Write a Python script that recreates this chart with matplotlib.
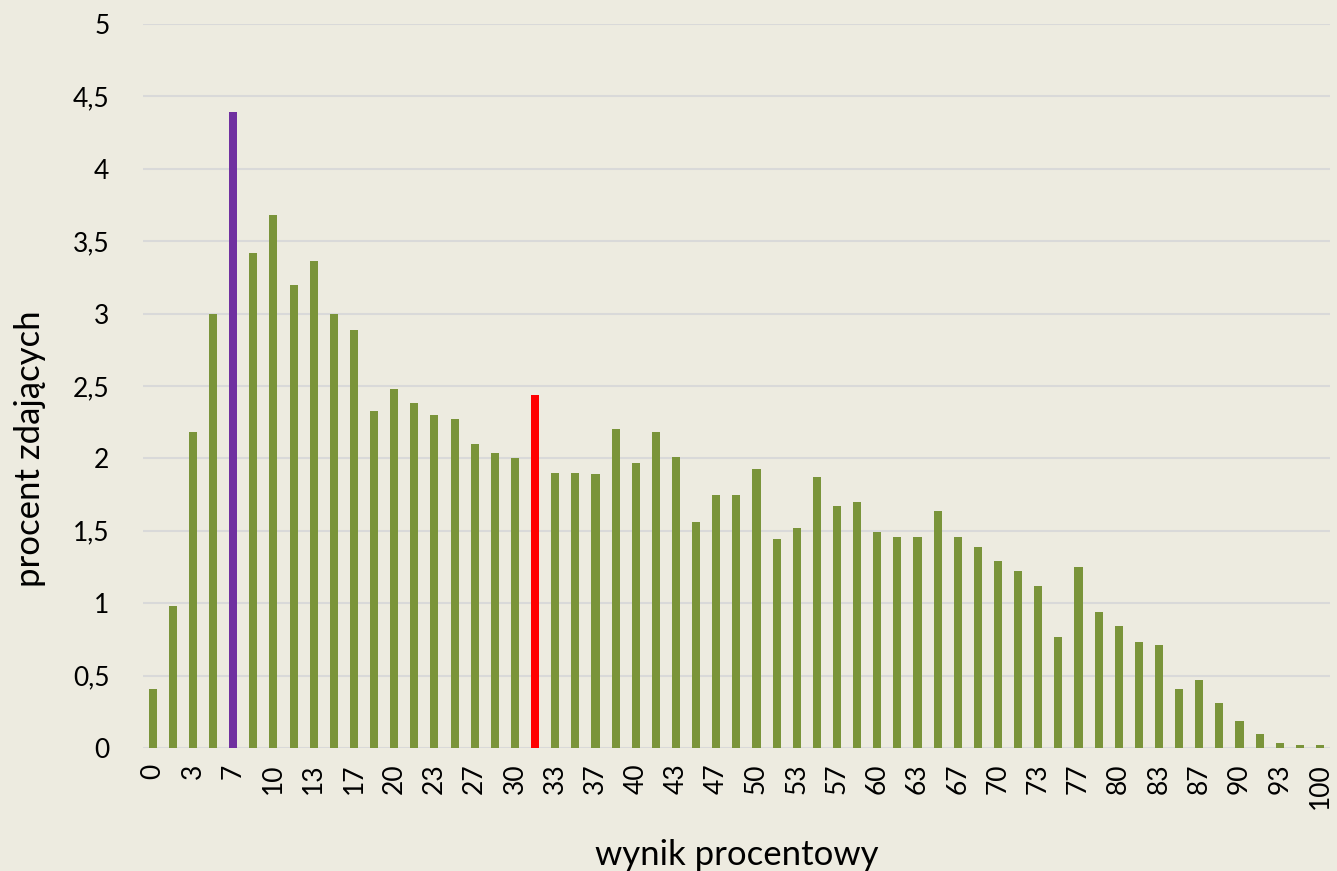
import matplotlib.pyplot as plt
from matplotlib.ticker import FuncFormatter

# Wyniki procentowe (kategorie) i procent zdajacych
wynik = ['0', '2', '3', '5', '7', '8', '10', '12', '13', '15',
         '17', '18', '20', '22', '23', '25', '27', '28', '30', '32',
         '33', '35', '37', '38', '40', '42', '43', '45', '47', '48',
         '50', '52', '53', '55', '57', '58', '60', '62', '63', '65',
         '67', '68', '70', '72', '73', '75', '77', '78', '80', '82',
         '83', '85', '87', '88', '90', '92', '93', '97', '100']
procent = [0.41, 0.98, 2.18, 3.00, 4.39, 3.42, 3.68, 3.20, 3.36, 3.00,
           2.89, 2.33, 2.48, 2.38, 2.30, 2.27, 2.10, 2.04, 2.00, 2.44,
           1.90, 1.90, 1.89, 2.20, 1.97, 2.18, 2.01, 1.56, 1.75, 1.75,
           1.93, 1.44, 1.52, 1.87, 1.67, 1.70, 1.49, 1.46, 1.46, 1.64,
           1.46, 1.39, 1.29, 1.22, 1.12, 0.77, 1.25, 0.94, 0.84, 0.73,
           0.71, 0.41, 0.47, 0.31, 0.19, 0.10, 0.035, 0.02, 0.02]

idx_fiolet = 4   # 7%
idx_czerw = 19   # 32%

bg = '#EDEBE0'
kolory = ['#7A943A'] * len(procent)
kolory[idx_fiolet] = '#7030A0'
kolory[idx_czerw] = '#FF0000'

plt.rcParams['font.family'] = ['Lato', 'DejaVu Sans']

fig = plt.figure(figsize=(13.37, 8.71), dpi=100, facecolor=bg)
ax = fig.add_axes([0.1067, 0.1412, 0.8881, 0.8313])
ax.set_facecolor(bg)

x = range(len(procent))
ax.bar(x, procent, width=0.4, color=kolory, zorder=3)

ax.set_xlim(-0.5, len(procent) - 0.5)
ax.set_ylim(0, 5)
ax.set_yticks([i * 0.5 for i in range(11)])
ax.yaxis.set_major_formatter(FuncFormatter(lambda v, p: ('%g' % v).replace('.', ',')))
ax.set_xticks(list(x)[::2])
ax.set_xticklabels(wynik[::2], rotation=90)

ax.grid(axis='y', color='#D9D9D9', linewidth=1.5, zorder=0)
for s in ax.spines.values():
    s.set_visible(False)
ax.tick_params(axis='both', length=0, labelsize=19, colors='black')
ax.tick_params(axis='y', pad=24)
ax.tick_params(axis='x', pad=11)

ax.set_xlabel('wynik procentowy', fontsize=25, va='center')
ax.set_ylabel('procent zdających', fontsize=25, va='center')
ax.xaxis.set_label_coords(0.5, -0.148)
ax.yaxis.set_label_coords(-0.095, 0.414)

fig.savefig('out.png', dpi=100, facecolor=bg)
